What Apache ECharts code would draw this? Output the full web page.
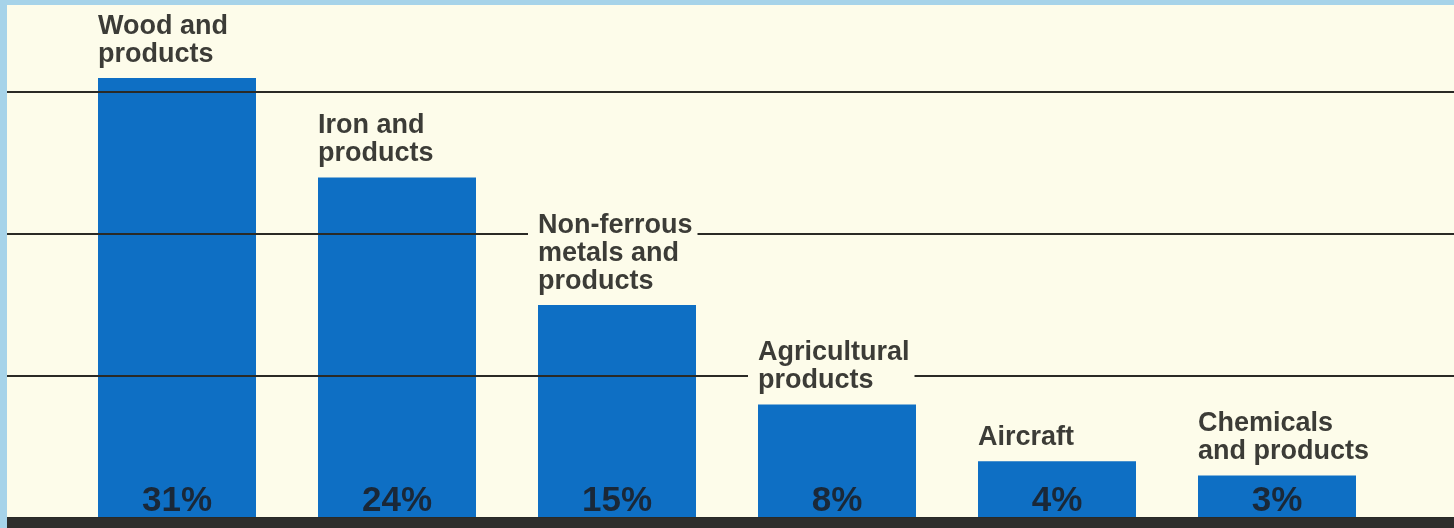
<!DOCTYPE html>
<html><head><meta charset="utf-8">
<script src="https://cdn.jsdelivr.net/npm/echarts@6/dist/echarts.min.js"></script>
<style>html,body{margin:0;padding:0;background:#fdfcea}#c{width:1454px;height:528px}</style>
</head><body><div id="c"></div>
<script>
const categories = ['Wood and\nproducts', 'Iron and\nproducts', 'Non-ferrous\nmetals and\nproducts', 'Agricultural\nproducts', 'Aircraft', 'Chemicals\nand products'];
const shares = [31, 24, 15, 8, 4, 3];
const yMin = 0, yMax = 36.5, yInterval = 10;

const CREAM = '#fdfcea';
const chart = echarts.init(document.getElementById('c'), null, {renderer: 'canvas'});
chart.setOption({
  backgroundColor: CREAM,
  animation: false,
  textStyle: {fontFamily: 'Liberation Sans, Arial, sans-serif'},
  grid: [
    {left: 67, right: 67, top: 0, bottom: 10},
    {left: 7, right: 0, top: 0, bottom: 10}
  ],
  xAxis: [
    {type: 'category', gridIndex: 0, data: categories, show: false},
    {type: 'value', gridIndex: 1, min: 0, max: 1, show: false}
  ],
  yAxis: [
    {type: 'value', gridIndex: 0, min: yMin, max: yMax, interval: yInterval, show: false, splitLine: {show: false}},
    {type: 'value', gridIndex: 1, min: yMin, max: yMax, interval: yInterval, z: 3,
     axisLine: {show: false}, axisTick: {show: false}, axisLabel: {show: false},
     splitLine: {show: true, lineStyle: {color: '#2a2a26', width: 2}}}
  ],
  series: [
    {
      type: 'bar', xAxisIndex: 0, yAxisIndex: 0, data: shares, barWidth: 158, z: 1, silent: true,
      itemStyle: {color: '#0e6fc4'},
      label: {show: true, position: 'insideBottom', distance: 2, formatter: '{c}%',
              fontSize: 35, lineHeight: 30, fontWeight: 'bold', color: '#1a2838',
              fontFamily: 'Liberation Sans, Arial, sans-serif'}
    },
    {
      type: 'bar', xAxisIndex: 0, yAxisIndex: 0, data: shares, barWidth: 158, barGap: '-100%', z: 5, silent: true,
      itemStyle: {color: 'rgba(0,0,0,0)'},
      label: {show: true, position: [-10, -8], align: 'left', verticalAlign: 'bottom',
              formatter: p => p.name, backgroundColor: CREAM, padding: [2, 5, 2, 10],
              fontSize: 27, lineHeight: 28, fontWeight: 'bold', color: '#3c3c37',
              fontFamily: 'Liberation Sans, Arial, sans-serif'}
    }
  ],
  graphic: [
    {type: 'rect', left: 0, top: 518, shape: {width: 1454, height: 10}, style: {fill: '#2e2e2c'}, z: 100},
    {type: 'rect', left: 0, top: 0, shape: {width: 1454, height: 5}, style: {fill: '#a6d3e9'}, z: 100},
    {type: 'rect', left: 0, top: 0, shape: {width: 7, height: 528}, style: {fill: '#a6d3e9'}, z: 100}
  ]
});
</script></body></html>
